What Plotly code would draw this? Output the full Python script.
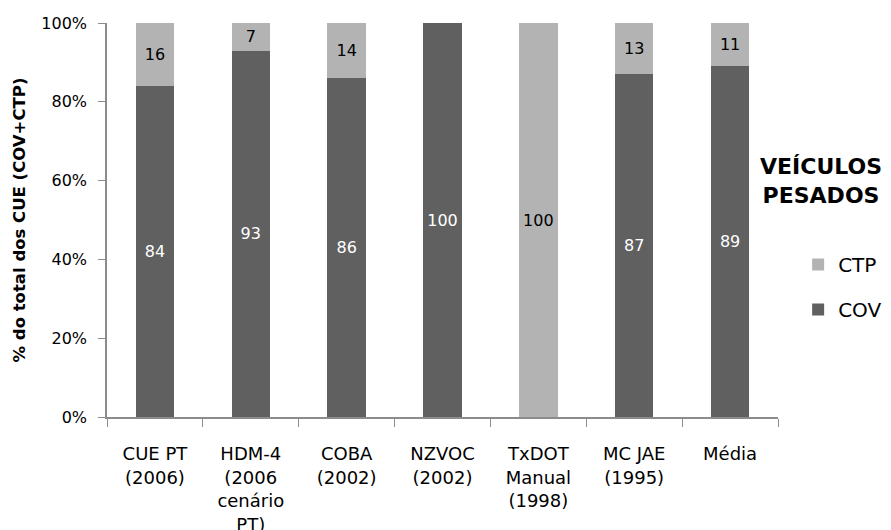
import plotly.graph_objects as go

categories = ["CUE PT<br>(2006)", "HDM-4<br>(2006<br>cenário<br>PT)", "COBA<br>(2002)",
              "NZVOC<br>(2002)", "TxDOT<br>Manual<br>(1998)", "MC JAE<br>(1995)", "Média"]
cov = [84, 93, 86, 100, 0, 87, 89]
ctp = [16, 7, 14, 0, 100, 13, 11]
y_ticks = [0, 20, 40, 60, 80, 100]
y_tick_labels = ["0%", "20%", "40%", "60%", "80%", "100%"]

FONT = "DejaVu Sans, sans-serif"
DARK = "#606060"
LIGHT = "#b3b3b3"
AXIS = "#8c8c8c"

def lbl(vals):
    return [str(v) if v else "" for v in vals]

fig = go.Figure()
fig.add_trace(go.Bar(
    x=categories, y=cov, name="COV", marker=dict(color=DARK, line=dict(width=0)),
    text=lbl(cov), textposition="inside", insidetextanchor="middle",
    textfont=dict(color="white", size=16, family=FONT), legendgroup="cov",
    legendrank=2, hoverinfo="skip",
))
fig.add_trace(go.Bar(
    x=categories, y=ctp, name="CTP", marker=dict(color=LIGHT, line=dict(width=0)),
    text=lbl(ctp), textposition="inside", insidetextanchor="middle",
    textfont=dict(color="black", size=16, family=FONT), legendgroup="ctp",
    legendrank=1, hoverinfo="skip",
))

# page body has an 8px margin, so the figure is sized/offset to compensate
fig.update_layout(
    barmode="stack",
    bargap=0.6,
    width=883, height=522,
    margin=dict(l=99, r=113, t=15, b=113, autoexpand=False),
    paper_bgcolor="white", plot_bgcolor="white",
    font=dict(family=FONT, size=16, color="black"),
    uniformtext=dict(mode="show", minsize=10),
    showlegend=True,
    legend=dict(
        x=1.03, y=0.33, xanchor="left", yanchor="middle",
        traceorder="grouped", tracegroupgap=16,
        font=dict(size=20, family=FONT),
        itemwidth=30,
    ),
    xaxis=dict(
        showline=True, linecolor=AXIS, linewidth=1.5,
        ticks="outside", tickson="boundaries", ticklen=8, tickcolor=AXIS,
        tickfont=dict(size=18), showgrid=False, automargin=False,
        ticklabelstandoff=20,
    ),
    yaxis=dict(
        range=[0, 100], tickvals=y_ticks, ticktext=y_tick_labels,
        showline=True, linecolor=AXIS, linewidth=1.5,
        ticks="outside", ticklen=7, tickcolor=AXIS, showgrid=False,
        tickfont=dict(size=16), automargin=False, ticklabelstandoff=8,
        title=dict(text="<b>% do total dos CUE (COV+CTP)</b>", font=dict(size=16.5), standoff=12),
    ),
    annotations=[dict(
        text="<b>VEÍCULOS<br>PESADOS</b>", x=1.064, y=0.599, xref="paper", yref="paper",
        xanchor="center", yanchor="middle", showarrow=False, font=dict(size=22, family=FONT),
    )],
)

fig.write_html("out.html")
